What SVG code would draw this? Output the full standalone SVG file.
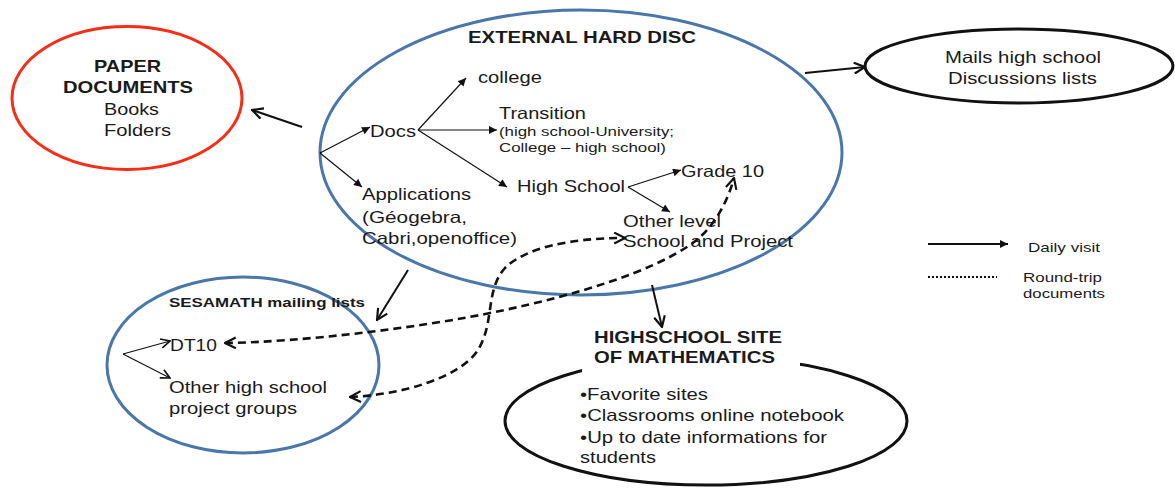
<svg xmlns="http://www.w3.org/2000/svg" width="1175" height="495" viewBox="0 0 1175 495">
<style>
text{font-family:"Liberation Sans",Arial,sans-serif;fill:#1a1a1a;font-size:16.5px}
.b{font-weight:bold}
.s{font-size:13px}
.lg{font-size:13.5px}
.ss{font-size:12px;font-weight:bold}
.blue{fill:none;stroke:#4a76a8;stroke-width:3}
.blk{fill:none;stroke:#111;stroke-width:3}
.thin{fill:none;stroke:#111;stroke-width:1.2}
.thick{fill:none;stroke:#111;stroke-width:2}
.dash{fill:none;stroke:#111;stroke-width:2.6;stroke-dasharray:8 5}
</style>
<defs>
<marker id="tri" viewBox="0 0 10 10" refX="10" refY="5" markerWidth="9" markerHeight="8" markerUnits="userSpaceOnUse" orient="auto-start-reverse">
<path d="M0,0 L10,5 L0,10 z" fill="#111"/>
</marker>
<marker id="vee" viewBox="0 0 12 12" refX="11" refY="6" markerWidth="13" markerHeight="13" markerUnits="userSpaceOnUse" orient="auto-start-reverse">
<path d="M1,1 L11,6 L1,11" fill="none" stroke="#111" stroke-width="2"/>
</marker>
<marker id="veeS" viewBox="0 0 12 12" refX="11" refY="6" markerWidth="11" markerHeight="11" markerUnits="userSpaceOnUse" orient="auto-start-reverse">
<path d="M1,1 L11,6 L1,11" fill="none" stroke="#111" stroke-width="1.8"/>
</marker>
</defs>

<g id="paper-documents">
<ellipse cx="127" cy="98" rx="115" ry="71.5" fill="none" stroke="#f52f17" stroke-width="3"/>
<text class="b" x="94" y="72" textLength="67" lengthAdjust="spacingAndGlyphs">PAPER</text>
<text class="b" x="63" y="92.5" textLength="130" lengthAdjust="spacingAndGlyphs">DOCUMENTS</text>
<text x="104" y="115" textLength="55" lengthAdjust="spacingAndGlyphs">Books</text>
<text x="104" y="136" textLength="67" lengthAdjust="spacingAndGlyphs">Folders</text>
</g>

<g id="external-hard-disc">
<ellipse cx="581" cy="152.5" rx="261" ry="142.5" class="blue"/>
<text class="b" x="468" y="43" textLength="228" lengthAdjust="spacingAndGlyphs">EXTERNAL HARD DISC</text>
<text x="370" y="137" textLength="46" lengthAdjust="spacingAndGlyphs">Docs</text>
<text x="478" y="83" textLength="64" lengthAdjust="spacingAndGlyphs">college</text>
<text x="499" y="119" textLength="87" lengthAdjust="spacingAndGlyphs">Transition</text>
<text class="s" x="499" y="136" textLength="175" lengthAdjust="spacingAndGlyphs">(high school-University;</text>
<text class="s" x="499" y="152" textLength="167" lengthAdjust="spacingAndGlyphs">College – high school)</text>
<text x="517" y="192" textLength="108" lengthAdjust="spacingAndGlyphs">High School</text>
<text x="681" y="177" textLength="83" lengthAdjust="spacingAndGlyphs">Grade 10</text>
<text x="623" y="227" textLength="98" lengthAdjust="spacingAndGlyphs">Other level</text>
<text x="623" y="247" textLength="170" lengthAdjust="spacingAndGlyphs">School and Project</text>
<text x="362" y="200" textLength="109" lengthAdjust="spacingAndGlyphs">Applications</text>
<text x="362" y="223" textLength="105" lengthAdjust="spacingAndGlyphs">(Géogebra,</text>
<text x="362" y="244" textLength="155" lengthAdjust="spacingAndGlyphs">Cabri,openoffice)</text>
</g>

<g id="mails-lists">
<ellipse cx="1019" cy="66" rx="154" ry="37" class="blk"/>
<text x="945" y="63" textLength="156" lengthAdjust="spacingAndGlyphs">Mails high school</text>
<text x="948" y="84" textLength="149" lengthAdjust="spacingAndGlyphs">Discussions lists</text>
</g>

<g id="sesamath">
<ellipse cx="243" cy="365" rx="136" ry="88" class="blue"/>
<text class="ss" x="169" y="307" textLength="196" lengthAdjust="spacingAndGlyphs">SESAMATH mailing lists</text>
<text x="170" y="351" textLength="47" lengthAdjust="spacingAndGlyphs">DT10</text>
<text x="169" y="393" textLength="158" lengthAdjust="spacingAndGlyphs">Other high school</text>
<text x="169" y="414" textLength="128" lengthAdjust="spacingAndGlyphs">project groups</text>
</g>

<g id="highschool-site">
<ellipse cx="706" cy="421" rx="201" ry="64" class="blk"/>
<rect x="582" y="324" width="218" height="50" fill="#fff"/>
<text class="b" x="594" y="343" textLength="188" lengthAdjust="spacingAndGlyphs">HIGHSCHOOL SITE</text>
<text class="b" x="594" y="363" textLength="181" lengthAdjust="spacingAndGlyphs">OF MATHEMATICS</text>
<text x="580" y="400" textLength="128" lengthAdjust="spacingAndGlyphs">•Favorite sites</text>
<text x="580" y="421" textLength="264" lengthAdjust="spacingAndGlyphs">•Classrooms online notebook</text>
<text x="580" y="443" textLength="247" lengthAdjust="spacingAndGlyphs">•Up to date informations for</text>
<text x="580" y="463" textLength="76" lengthAdjust="spacingAndGlyphs">students</text>
</g>

<g id="legend">
<line x1="928" y1="244" x2="1008" y2="244" class="thick" marker-end="url(#tri)"/>
<text class="lg" x="1028" y="252" textLength="72" lengthAdjust="spacingAndGlyphs">Daily visit</text>
<line x1="928" y1="277" x2="997" y2="277" fill="none" stroke="#111" stroke-width="2" stroke-dasharray="2 2"/>
<text class="lg" x="1023" y="282" textLength="79" lengthAdjust="spacingAndGlyphs">Round-trip</text>
<text class="lg" x="1023" y="298" textLength="82" lengthAdjust="spacingAndGlyphs">documents</text>
</g>

<g id="connectors">
<line x1="302" y1="127" x2="252" y2="110" class="thick" marker-end="url(#vee)"/>
<line x1="805" y1="73" x2="865" y2="67" class="thick" marker-end="url(#vee)"/>
<line x1="408" y1="270" x2="377" y2="320" class="thick" marker-end="url(#vee)"/>
<line x1="652" y1="285" x2="662" y2="327" class="thick" marker-end="url(#vee)"/>
<line x1="320" y1="153" x2="370" y2="127" class="thin" marker-end="url(#tri)"/>
<line x1="320" y1="153" x2="362" y2="187" class="thin" marker-end="url(#tri)"/>
<line x1="418" y1="130" x2="466" y2="78" class="thin" marker-end="url(#tri)"/>
<line x1="418" y1="130" x2="497" y2="130" class="thin" marker-end="url(#tri)"/>
<line x1="418" y1="130" x2="507" y2="187" class="thin" marker-end="url(#tri)"/>
<line x1="628" y1="187" x2="681" y2="170" class="thin" marker-end="url(#tri)"/>
<line x1="628" y1="187" x2="670" y2="212" class="thin" marker-end="url(#tri)"/>
<line x1="123" y1="354" x2="170" y2="341" class="thin" marker-end="url(#veeS)"/>
<line x1="123" y1="354" x2="170" y2="378" class="thin" marker-end="url(#veeS)"/>
<path d="M225,343 C300,342 420,328 500,311 C580,294 650,272 690,245 C715,228 728,200 734,178" class="dash" marker-start="url(#vee)" marker-end="url(#vee)"/>
<path d="M350,397 C400,395 460,378 478,350 C495,322 485,290 505,268 C525,248 570,238 625,238" class="dash" marker-start="url(#vee)" marker-end="url(#vee)"/>
</g>
</svg>
